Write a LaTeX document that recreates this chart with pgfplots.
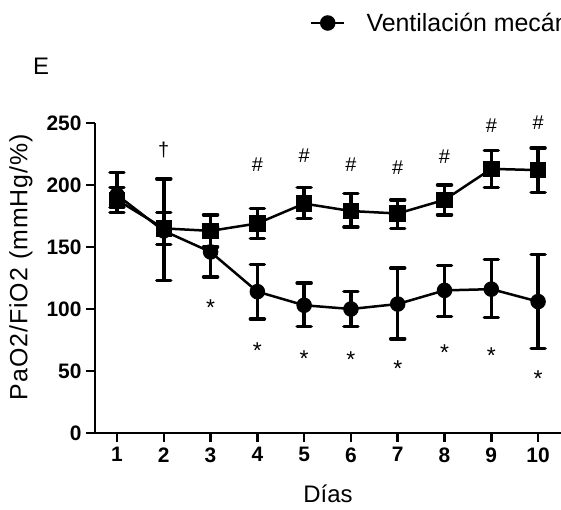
\documentclass[border=0pt]{standalone}
\usepackage{pgfplots}
\pgfplotsset{compat=1.18}
\usepackage{fontspec}
\setmainfont{Liberation Sans}

\pgfplotstableread{
day  c    cp   cm   s    sp   sm
1    192  18   10   188  10   10
2    163  42   40   165  13   13
3    146  20   20   163  13   13
4    114  22   22   169  12   12
5    103  18   17   185  13   12
6    100  14   14   179  14   13
7    104  29   28   177  11   12
8    115  20   21   188  12   12
9    116  24   23   213  15   15
10   106  38   38   212  18   18
}\datatable

\begin{document}
\begin{tikzpicture}[x=1bp,y=1bp]
\useasboundingbox (0,0) rectangle (561,510);
\clip (0,0) rectangle (561,510);
\node[anchor=base west, inner sep=0, font=\fontsize{24}{24}\selectfont] at (33,435) {E};
\begin{axis}[
  at={(95bp,77bp)}, anchor=origin,
  scale only axis, width=466bp, height=310bp,
  xmin=0.53, xmax=10.49, ymin=0, ymax=250,
  axis lines*=left,
  axis line style={line width=2.5bp},
  xtick={1,...,10}, ytick={0,50,...,250},
  tick style={line width=2.5bp, black},
  tick align=outside, major tick length=9bp,
  /pgf/number format/assume math mode=true,
  ticklabel style={font=\fontsize{21}{21}\selectfont\bfseries},
  xticklabel style={yshift=-2bp},
  yticklabel style={xshift=-1bp},
  xlabel={Días}, ylabel={PaO2/FiO2 (mmHg/\%)},
  label style={font=\fontsize{24}{24}\selectfont},
  xlabel style={at={(axis description cs:0.5,-0.2226)}, anchor=base, inner sep=0},
  ylabel style={at={(axis description cs:-0.1588,0.535)}, anchor=center, inner sep=0, font=\fontsize{25}{25}\selectfont\addfontfeature{LetterSpace=4}},
  clip=false,
  legend style={at={(axis description cs:0.4614,1.3226)}, anchor=west, draw=none, fill=none,
    inner sep=0, outer sep=0, font=\fontsize{25}{25}\selectfont,
    nodes={inner sep=0pt},
    /tikz/every odd column/.append style={column sep=21bp}},
  legend image code/.code={\draw[line width=2.5bp] (0bp,0bp) -- (33bp,0bp); \fill (16.5bp,0bp) circle (6.5bp);},
]
\addplot[black, line width=2.5bp, mark=*, mark size=6.5bp,
  error bars/.cd, y dir=both, y explicit,
  error bar style={line width=3.5bp},
  error mark options={rotate=90, mark size=7bp, line width=3.5bp, line cap=round}]
  table[x=day, y=c, y error plus=cp, y error minus=cm] {\datatable};
\addlegendentry{Ventilación mecánica}
\addplot[black, line width=2.5bp, mark=square*, mark size=7bp, forget plot,
  error bars/.cd, y dir=both, y explicit,
  error bar style={line width=3.5bp},
  error mark options={rotate=90, mark size=7bp, line width=3.5bp, line cap=round}]
  table[x=day, y=s, y error plus=sp, y error minus=sm] {\datatable};
% annotations
\addplot[draw=none, mark=none, forget plot, nodes near coords, point meta=explicit symbolic,
  every node near coord/.style={anchor=center, font=\fontsize{20}{20}\selectfont, inner sep=0}]
  coordinates {(2,228)[\textdagger] (4,216)[\#] (5,224)[\#] (6,216)[\#] (7,214)[\#] (8,223)[\#] (9,248)[\#] (10,250)[\#]};
\addplot[draw=none, mark=none, forget plot, nodes near coords, point meta=explicit symbolic,
  every node near coord/.style={anchor=center, font=\fontsize{23}{23}\selectfont, inner sep=0, yshift=-4bp}]
  coordinates {(3,104)[*] (4,70)[*] (5,63)[*] (6,62)[*] (7,55)[*] (8,68)[*] (9,66)[*] (10,47)[*]};
\end{axis}
\end{tikzpicture}
\end{document}
